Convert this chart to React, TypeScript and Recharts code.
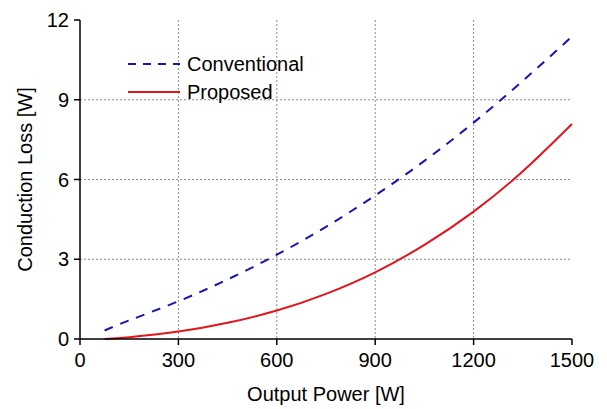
import { CartesianGrid, Label, Line, LineChart, XAxis, YAxis } from "recharts";

const power = [75, 150, 300, 450, 600, 750, 900, 1050, 1200, 1350, 1500];
const conventional = [0.32, 0.7, 1.42, 2.24, 3.17, 4.22, 5.4, 6.7, 8.14, 9.71, 11.38];
const proposed = [0.0, 0.07, 0.28, 0.61, 1.07, 1.7, 2.51, 3.54, 4.79, 6.31, 8.09];

const xTicks = [0, 300, 600, 900, 1200, 1500];
const yTicks = [0, 3, 6, 9, 12];

const data = power.map((p, i) => ({
  power: p,
  conventional: conventional[i],
  proposed: proposed[i],
}));

const FONT = '"Liberation Sans", Arial, sans-serif';
const BLUE = "#1616b0";
const RED = "#e2141c";
const FS = 20;

function LegendBox() {
  const rows = [
    { name: "Conventional", color: BLUE, dash: "8 7" },
    { name: "Proposed", color: RED, dash: undefined },
  ];
  return (
    <div
      style={{
        position: "absolute",
        left: 128,
        top: 50,
        fontFamily: FONT,
        fontSize: FS,
        color: "#000",
        lineHeight: 1,
      }}
    >
      {rows.map((r) => (
        <div key={r.name} style={{ display: "flex", alignItems: "center", height: 28 }}>
          <svg width={52} height={4} style={{ marginRight: 7 }}>
            <line x1={0} y1={2} x2={52} y2={2} stroke={r.color} strokeWidth={2} strokeDasharray={r.dash} />
          </svg>
          <span>{r.name}</span>
        </div>
      ))}
    </div>
  );
}

export default function App() {
  const tick = { fontSize: FS, fill: "#000", fontFamily: FONT };
  return (
    <div style={{ position: "fixed", left: 0, top: 0, width: 607, height: 409, background: "#fff" }}>
      <LineChart
        width={607}
        height={409}
        data={data}
        margin={{ top: 20, right: 35, bottom: 30, left: 0 }}
      >
        <CartesianGrid
          stroke="#8a8a8a"
          strokeDasharray="2 2"
          horizontalValues={[3, 6, 9]}
          verticalValues={[300, 600, 900, 1200]}
        />
        <XAxis
          dataKey="power"
          type="number"
          domain={[0, 1500]}
          ticks={xTicks}
          interval={0}
          tick={tick}
          tickSize={6}
          tickMargin={8}
          height={40}
          axisLine={{ stroke: "#000", strokeWidth: 1.5 }}
          tickLine={{ stroke: "#000", strokeWidth: 1.5 }}
        >
          <Label
            value="Output Power [W]"
            position="bottom"
            offset={8}
            style={{ fontSize: FS, fill: "#000", fontFamily: FONT }}
          />
        </XAxis>
        <YAxis
          type="number"
          domain={[0, 12]}
          ticks={yTicks}
          interval={0}
          tick={tick}
          tickSize={6}
          tickMargin={5}
          width={80}
          axisLine={{ stroke: "#000", strokeWidth: 1.5 }}
          tickLine={{ stroke: "#000", strokeWidth: 1.5 }}
        >
          <Label
            content={({ viewBox }: any) => {
              const cy = viewBox.y + viewBox.height / 2;
              return (
                <text
                  x={25}
                  y={cy}
                  transform={`rotate(-90 25 ${cy})`}
                  textAnchor="middle"
                  dominantBaseline="central"
                  style={{ fontSize: FS, fill: "#000", fontFamily: FONT }}
                >
                  Conduction Loss [W]
                </text>
              );
            }}
          />
        </YAxis>
        <Line
          type="natural"
          dataKey="conventional"
          stroke={BLUE}
          strokeWidth={2}
          strokeDasharray="9 8"
          dot={false}
          isAnimationActive={false}
        />
        <Line
          type="natural"
          dataKey="proposed"
          stroke={RED}
          strokeWidth={2}
          dot={false}
          isAnimationActive={false}
        />
      </LineChart>
      <LegendBox />
    </div>
  );
}
